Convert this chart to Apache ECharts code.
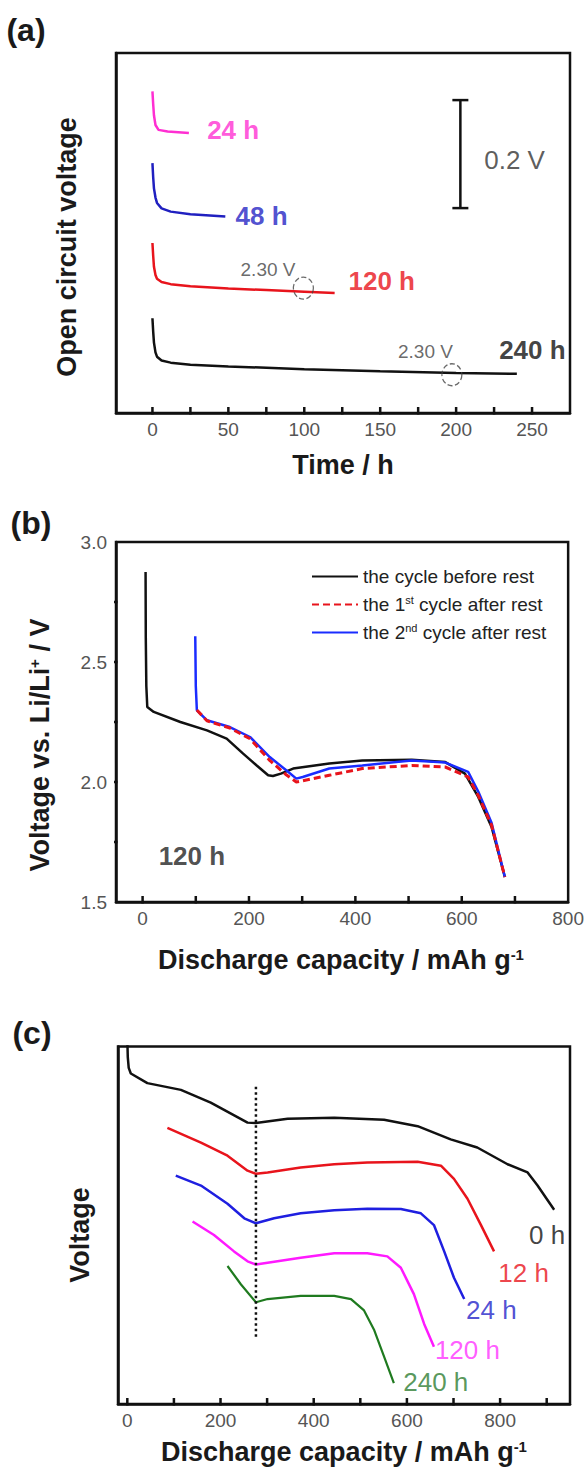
<!DOCTYPE html>
<html>
<head>
<meta charset="utf-8">
<script src="https://cdn.jsdelivr.net/npm/echarts@6/dist/echarts.min.js"></script>
<style>
html,body{margin:0;padding:0;background:#fff;}
#chart{width:587px;height:1468px;}
</style>
</head>
<body>
<div id="chart"></div>
<script>
// ---------- Panel (a): open circuit voltage during rest (curves offset vertically, relative V) ----------
const aTicks = [0, 25, 50, 75, 100, 125, 150, 175, 200, 225, 250];
const aTickLabels = [0, 50, 100, 150, 200, 250];
const ocv24h  = [[0,0.594],[0.5,0.570],[1,0.550],[2,0.532],[4,0.523],[10,0.520],[24,0.517]];
const ocv48h  = [[0,0.4615],[0.5,0.435],[1,0.415],[2,0.398],[3,0.388],[6,0.378],[12,0.372],[25,0.367],[48,0.363]];
const ocv120h = [[0,0.314],[0.5,0.290],[1,0.270],[2,0.255],[3,0.248],[6,0.242],[12,0.238],[25,0.234],[50,0.230],[75,0.227],[100,0.224],[120,0.2215]];
const ocv240h = [[0,0.175],[0.5,0.150],[1,0.130],[2,0.112],[3,0.104],[6,0.097],[12,0.093],[25,0.089],[50,0.086],[100,0.081],[150,0.077],[200,0.074],[240,0.0725]];
const scaleBar = [[202.8,0.3785],[202.8,0.578]];          // 0.2 V scale bar
const markCircles = [[99.4,0.2307],[197.2,0.0707]];        // 2.30 V markers

// ---------- Panel (b): discharge curves, 120 h rest ----------
const bTicks = [0, 100, 200, 300, 400, 500, 600, 700];
const bTickLabels = [0, 200, 400, 600, 800];
const bYTicks = [1.75, 2.0, 2.25, 2.5, 2.75];
const bYTickLabels = [1.5, 2.0, 2.5, 3.0];
const cycleBeforeRest = [[5.6,2.875],[6,2.60],[7,2.40],[8.8,2.3125],[21,2.292],[71,2.250],[121,2.215],[158,2.181],[189,2.118],[214,2.070],[236,2.028],[245,2.025],[260,2.035],[283,2.056],[351,2.077],[413,2.090],[506,2.093],[569,2.083],[606,2.035],[631,1.9375],[656,1.8125],[681,1.604]];
const cycle1stAfter   = [[102,2.300],[121,2.255],[164,2.225],[202,2.180],[239,2.090],[270,2.030],[289,2.000],[301,2.005],[351,2.028],[413,2.056],[506,2.069],[569,2.0625],[612,2.021],[631,1.944],[656,1.820],[681,1.604]];
const cycle2ndAfter   = [[99,2.607],[100,2.40],[102,2.299],[121,2.257],[164,2.229],[202,2.1875],[239,2.104],[270,2.049],[289,2.014],[301,2.021],[351,2.056],[413,2.069],[506,2.090],[569,2.081],[612,2.042],[631,1.960],[656,1.830],[681,1.604]];

// ---------- Panel (c): discharge curves after different rest times (offset, relative voltage) ----------
const cTicks = [0, 100, 200, 300, 400, 500, 600, 700, 800, 900];
const cTickLabels = [0, 200, 400, 600, 800];
const dis0h   = [[0,1.02],[1,0.97],[3,0.94],[7.5,0.924],[43,0.897],[115,0.878],[179,0.842],[258,0.786],[276,0.785],[344,0.797],[444,0.800],[551,0.794],[623,0.776],[694,0.739],[751,0.716],[816,0.669],[859,0.646],[880,0.610],[916,0.541]];
const dis12h  = [[86,0.771],[158,0.730],[215,0.693],[258,0.651],[276,0.642],[301,0.646],[372,0.660],[444,0.669],[515,0.674],[623,0.676],[673,0.665],[701,0.628],[730,0.572],[759,0.498],[787,0.424]];
const dis24h  = [[104,0.637],[158,0.609],[215,0.558],[251,0.517],[276,0.503],[315,0.517],[372,0.531],[444,0.540],[515,0.544],[587,0.543],[630,0.531],[658,0.498],[680,0.424],[701,0.350],[723,0.290]];
const dis120h = [[140,0.508],[186,0.470],[229,0.424],[258,0.396],[276,0.387],[301,0.392],[372,0.406],[444,0.419],[515,0.419],[558,0.410],[587,0.378],[615,0.304],[637,0.220],[658,0.156]];
const dis240h = [[215,0.383],[244,0.331],[276,0.281],[301,0.290],[372,0.299],[444,0.299],[480,0.290],[508,0.258],[530,0.202],[551,0.128],[572,0.054]];
const guideLine = [[276,0.887],[276,0.179]];

// ---------- text annotations (anchor = left edge, vertical centre, data coords) ----------
const aNotes = [
  {text:'24 h',   x:35.7,  y:0.523,  color:'#ff2fd2', weight:'bold',   size:26},
  {text:'48 h',   x:54.4,  y:0.363,  color:'#2424c4', weight:'bold',   size:26},
  {text:'120 h',  x:128.8, y:0.2435, color:'#e8141c', weight:'bold',   size:26},
  {text:'240 h',  x:228,   y:0.117,  color:'#111111', weight:'bold',   size:26},
  {text:'2.30 V', x:57.7,  y:0.2645, color:'#444444', weight:'normal', size:19},
  {text:'2.30 V', x:161.4, y:0.1137, color:'#444444', weight:'normal', size:19},
  {text:'0.2 V',  x:218.2, y:0.4676, color:'#333333', weight:'normal', size:26}
];
const bNotes = [
  {text:'120 h', x:29.2, y:1.692, color:'#222222', weight:'bold', size:26}
];
const cNotes = [
  {text:'0 h',   x:861, y:0.470, color:'#111111', weight:'normal', size:26},
  {text:'12 h',  x:795, y:0.364, color:'#e8141c', weight:'normal', size:26},
  {text:'24 h',  x:726, y:0.258, color:'#2424c8', weight:'normal', size:26},
  {text:'120 h', x:659, y:0.147, color:'#ff33ff', weight:'normal', size:26},
  {text:'240 h', x:591, y:0.058, color:'#2e7d32', weight:'normal', size:26}
];

const FONT = "'Liberation Sans', Arial, Helvetica, sans-serif";
const chart = echarts.init(document.getElementById('chart'), null, {renderer:'svg', width:587, height:1468});

const X_RANGE = [[-24, 275], [-50, 800], [-20, 950]];
const Y_RANGE = [[0, 0.665], [1.5, 3.0], [-0.005, 1.0]];
const GRIDS = [
  {left:116, top:53, width:454, height:360},
  {left:116, top:542, width:454, height:360},
  {left:118, top:1046.5, width:452, height:357.5}
];

function line(name, data, idx, color, width, type) {
  return {type:'line', name:name, data:data, xAxisIndex:idx, yAxisIndex:idx, symbol:'none', showSymbol:false,
    lineStyle:{color:color, width:width, type:type || 'solid'}, itemStyle:{color:color}, silent:true, z:3, clip:true};
}
function notes(items, idx) {
  return {type:'scatter', xAxisIndex:idx, yAxisIndex:idx, symbolSize:1, itemStyle:{color:'rgba(0,0,0,0)'}, silent:true, z:6,
    data: items.map(function(it){ return {value:[it.x,it.y], name:it.text,
      label:{show:true, position:'right', distance:0, formatter:it.text, color:it.color, fontSize:it.size, fontWeight:it.weight, fontFamily:FONT}}; })};
}
// tick marks as short broken line segments on the axes' scales:
// 'x' = from the bottom edge upward (inside), 'y' = from the left edge outward
function tickMarks(idx, values, dir, lenPx) {
  const data = [];
  if (dir === 'x') {
    const unit = (Y_RANGE[idx][1] - Y_RANGE[idx][0]) / GRIDS[idx].height;
    const y0 = Y_RANGE[idx][0];
    values.forEach(function(v){ data.push([v, y0 - 1.5 * unit], [v, y0 + lenPx * unit], ['-', '-']); });
  } else {
    const unit = (X_RANGE[idx][1] - X_RANGE[idx][0]) / GRIDS[idx].width;
    const x0 = X_RANGE[idx][0];
    values.forEach(function(v){ data.push([x0 - lenPx * unit, v], [x0 + 1.5 * unit, v], ['-', '-']); });
  }
  return {type:'line', xAxisIndex:idx, yAxisIndex:idx, data:data, symbol:'none', showSymbol:false, connectNulls:false,
    clip:false, silent:true, z:12, lineStyle:{color:'#111', width:2.5, cap:'butt'}};
}
const axisLineStyle = {show:true, onZero:false, lineStyle:{color:'#111', width:2.5}};
function onlyValues(list, digits) {
  return function(v) {
    for (let i = 0; i < list.length; i++) {
      if (Math.abs(list[i] - v) < 1e-6) return digits ? Number(v).toFixed(digits) : String(v);
    }
    return '';
  };
}
function xAxisCfg(idx, labels) {
  return {type:'value', gridIndex:idx, min:X_RANGE[idx][0], max:X_RANGE[idx][1], splitNumber:5, splitLine:{show:false},
    axisLine:axisLineStyle, axisTick:{show:false},
    axisLabel:{formatter:onlyValues(labels), showMinLabel:true, showMaxLabel:true, margin:7, color:'#555', fontSize:19, fontFamily:FONT}};
}
function hiddenY(idx) {
  return {type:'value', gridIndex:idx, min:Y_RANGE[idx][0], max:Y_RANGE[idx][1], splitLine:{show:false},
    axisLine:axisLineStyle, axisTick:{show:false}, axisLabel:{show:false}};
}
const gridStyle = {show:true, borderColor:'#111', borderWidth:2.5, containLabel:false};
function title(text, x, y, rot, rich, size) {
  return {type:'text', x:x, y:y, rotation:rot || 0, silent:true,
    style:{text:text, align:'center', verticalAlign:'middle', textAlign:'center', textVerticalAlign:'middle', rich:rich || {},
      fontSize:size || 27, fontWeight:'bold', fontFamily:FONT, fill:'#1a1a1a'}};
}
const supRich = {sup:{fontSize:15, fontWeight:'bold', fontFamily:FONT, fill:'#1a1a1a', verticalAlign:'top'}};

const option = {
  animation:false,
  backgroundColor:'#fff',
  grid: GRIDS.map(function(g){ return Object.assign({}, g, gridStyle); }),
  xAxis:[ xAxisCfg(0, aTickLabels), xAxisCfg(1, bTickLabels), xAxisCfg(2, cTickLabels) ],
  yAxis:[
    hiddenY(0),
    {type:'value', gridIndex:1, min:Y_RANGE[1][0], max:Y_RANGE[1][1], interval:0.5, splitLine:{show:false},
      axisLine:axisLineStyle, axisTick:{show:false},
      axisLabel:{formatter:onlyValues(bYTickLabels, 1), margin:9, color:'#555', fontSize:19, fontFamily:FONT}},
    hiddenY(2)
  ],
  legend:{
    data:['the cycle before rest','the 1st cycle after rest','the 2nd cycle after rest'],
    orient:'vertical', left:306, top:561, itemWidth:46, itemHeight:14, itemGap:7, selectedMode:false,
    itemStyle:{opacity:0},
    textStyle:{fontSize:19, color:'#222', fontFamily:FONT, lineHeight:21,
      rich:{sup:{fontSize:11, color:'#222', fontFamily:FONT, verticalAlign:'top', lineHeight:21}}},
    formatter:function(n){
      if (n === 'the 1st cycle after rest') return 'the 1{sup|st} cycle after rest';
      if (n === 'the 2nd cycle after rest') return 'the 2{sup|nd} cycle after rest';
      return n;
    }
  },
  series:[
    // (a)
    line('OCV 24 h', ocv24h, 0, '#ff2fd2', 2.5),
    line('OCV 48 h', ocv48h, 0, '#2020c0', 2.5),
    line('OCV 120 h', ocv120h, 0, '#e8141c', 2.5),
    line('OCV 240 h', ocv240h, 0, '#111111', 2.5),
    {type:'line', name:'0.2 V bar', data:scaleBar, xAxisIndex:0, yAxisIndex:0, symbol:'rect', symbolSize:[16,2.5], showSymbol:true,
      lineStyle:{color:'#111', width:2.5}, itemStyle:{color:'#111'}, silent:true, z:4},
    {type:'scatter', name:'2.30 V mark', data:markCircles, xAxisIndex:0, yAxisIndex:0, symbol:'circle', symbolSize:[20,22],
      itemStyle:{color:'rgba(0,0,0,0)', borderColor:'#444', borderWidth:1.3, borderType:'dashed'}, silent:true, z:5},
    notes(aNotes, 0),
    tickMarks(0, aTicks, 'x', 6),
    // (b)
    line('the cycle before rest', cycleBeforeRest, 1, '#111111', 2.5),
    line('the 2nd cycle after rest', cycle2ndAfter, 1, '#1a2cff', 2.5),
    line('the 1st cycle after rest', cycle1stAfter, 1, '#e8141c', 3, [7,4]),
    notes(bNotes, 1),
    tickMarks(1, bTicks, 'x', 6),
    tickMarks(1, bYTicks, 'y', 6),
    // (c)
    line('0 h', dis0h, 2, '#111111', 2.5),
    line('12 h', dis12h, 2, '#e8141c', 2.5),
    line('24 h', dis24h, 2, '#1f1fe0', 2.5),
    line('120 h', dis120h, 2, '#ff1aff', 2.5),
    line('240 h', dis240h, 2, '#1f7a1f', 2.2),
    line('guide', guideLine, 2, '#111111', 2.5, [2.5,3]),
    notes(cNotes, 2),
    tickMarks(2, cTicks, 'x', 6)
  ],
  graphic:[
    title('(a)', 26, 30, 0, null, 32),
    title('(b)', 31, 523, 0, null, 32),
    title('(c)', 32, 1033, 0, null, 32),
    title('Time / h', 343, 465),
    title('Open circuit voltage', 67, 247, Math.PI/2),
    title('Voltage vs. Li/Li{sup|+} / V', 40, 745, Math.PI/2, supRich),
    title('Discharge capacity / mAh g{sup|-1}', 341, 960, 0, supRich),
    title('Voltage', 80, 1235, Math.PI/2),
    title('Discharge capacity / mAh g{sup|-1}', 344, 1452, 0, supRich)
  ]
};
chart.setOption(option);
</script>
</body>
</html>
